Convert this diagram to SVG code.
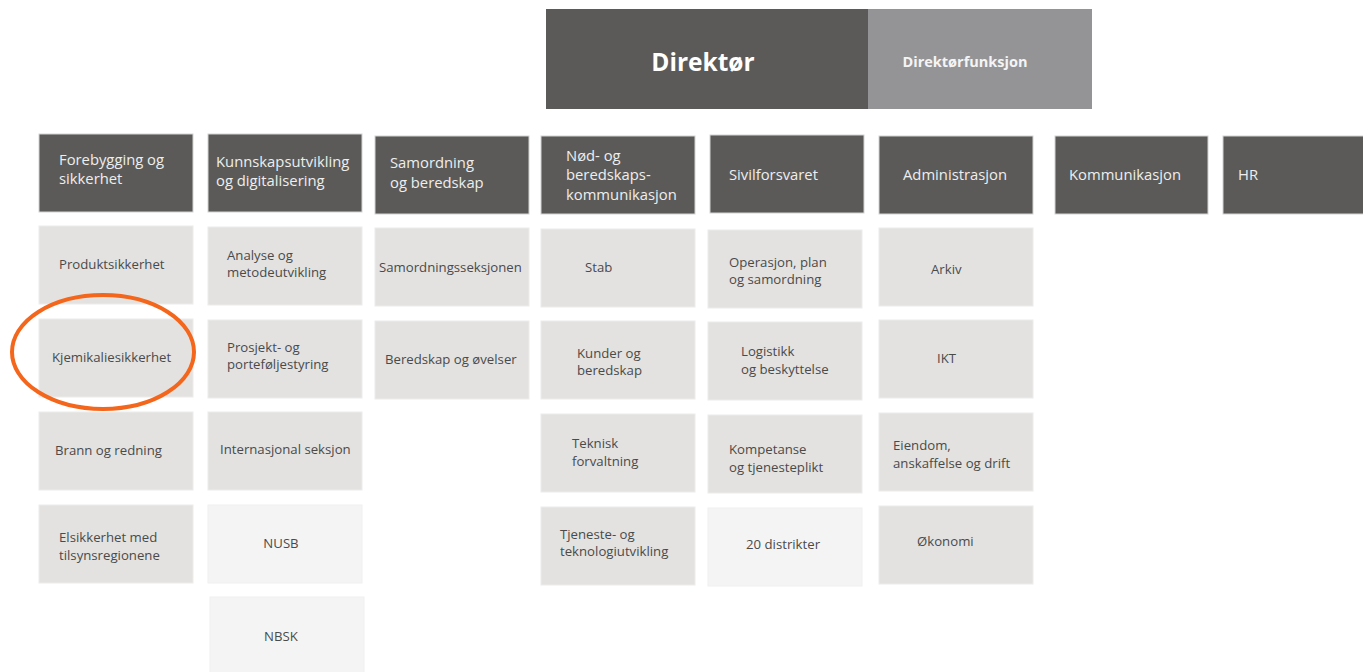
<svg xmlns="http://www.w3.org/2000/svg" width="1363" height="672" viewBox="0 0 1363 672">
<style>
.hd{fill:#5b5a58;stroke:#d4d4d4;stroke-width:1}
.sb{fill:#e3e2e0;stroke:#ececec;stroke-width:1}
.lt{fill:#f4f4f4;stroke:#f0f0f0;stroke-width:1}
.ht{font-family:"Open Sans","Liberation Sans",sans-serif;font-size:14.8px;fill:#eeeeee}
.st{font-family:"Open Sans","Liberation Sans",sans-serif;font-size:13.2px;fill:#4a4a4a}
.c{text-anchor:middle}
</style>
<rect width="1363" height="672" fill="#ffffff"/>
<g id="top">
<rect x="546" y="9" width="322" height="100" fill="#5b5a58"/>
<rect x="868" y="9" width="224" height="100" fill="#949497"/>
<text x="703" y="71" class="c" font-family="Open Sans, Liberation Sans, sans-serif" font-weight="bold" font-size="24.5" fill="#ffffff">Direktør</text>
<text x="965" y="67" class="c" font-family="Open Sans, Liberation Sans, sans-serif" font-weight="bold" font-size="14.5" fill="#f4f4f4">Direktørfunksjon</text>
</g>
<g id="headers">
<g id="h1"><rect class="hd" x="39" y="134" width="154" height="78"/><text class="ht" x="59" y="165">Forebygging og</text><text class="ht" x="59" y="184">sikkerhet</text></g>
<g id="h2"><rect class="hd" x="208" y="134" width="154" height="78"/><text class="ht" x="216" y="167">Kunnskapsutvikling</text><text class="ht" x="216" y="186">og digitalisering</text></g>
<g id="h3"><rect class="hd" x="375" y="136" width="154" height="78"/><text class="ht" x="390" y="168">Samordning</text><text class="ht" x="390" y="188">og beredskap</text></g>
<g id="h4"><rect class="hd" x="541" y="136" width="154" height="78"/><text class="ht" x="566" y="161">Nød- og</text><text class="ht" x="566" y="180">beredskaps-</text><text class="ht" x="566" y="200">kommunikasjon</text></g>
<g id="h5"><rect class="hd" x="710" y="135" width="154" height="78"/><text class="ht" x="729" y="180">Sivilforsvaret</text></g>
<g id="h6"><rect class="hd" x="879" y="136" width="154" height="78"/><text class="ht" x="903" y="180">Administrasjon</text></g>
<g id="h7"><rect class="hd" x="1055" y="136" width="153" height="78"/><text class="ht" x="1069" y="180">Kommunikasjon</text></g>
<g id="h8"><rect class="hd" x="1223" y="136" width="141" height="78"/><text class="ht" x="1238" y="180">HR</text></g>
</g>
<g id="col1">
<g id="n-produkt"><rect class="sb" x="39" y="226" width="154" height="78"/><text class="st" x="59" y="269">Produktsikkerhet</text></g>
<g id="n-kjemi"><rect class="sb" x="39" y="319" width="154" height="78"/><text class="st" x="52" y="362">Kjemikaliesikkerhet</text></g>
<g id="n-brann"><rect class="sb" x="39" y="412" width="154" height="78"/><text class="st" x="55" y="455">Brann og redning</text></g>
<g id="n-el"><rect class="sb" x="39" y="505" width="154" height="78"/><text class="st" x="59" y="542">Elsikkerhet med</text><text class="st" x="59" y="560">tilsynsregionene</text></g>
</g>
<g id="col2">
<g id="n-analyse"><rect class="sb" x="208" y="227" width="154" height="78"/><text class="st" x="227" y="260">Analyse og</text><text class="st" x="227" y="277">metodeutvikling</text></g>
<g id="n-prosjekt"><rect class="sb" x="208" y="320" width="154" height="78"/><text class="st" x="227" y="352">Prosjekt- og</text><text class="st" x="227" y="369">porteføljestyring</text></g>
<g id="n-intl"><rect class="sb" x="208" y="412" width="154" height="78"/><text class="st" x="220" y="454">Internasjonal seksjon</text></g>
<g id="n-nusb"><rect class="lt" x="208" y="505" width="154" height="78"/><text class="st c" x="281" y="548">NUSB</text></g>
<g id="n-nbsk"><rect class="lt" x="210" y="597" width="154" height="78"/><text class="st c" x="281" y="641">NBSK</text></g>
</g>
<g id="col3">
<g id="n-samseks"><rect class="sb" x="375" y="228" width="154" height="78"/><text class="st" x="379" y="272">Samordningsseksjonen</text></g>
<g id="n-bered"><rect class="sb" x="375" y="321" width="154" height="78"/><text class="st" x="385" y="364">Beredskap og øvelser</text></g>
</g>
<g id="col4">
<g id="n-stab"><rect class="sb" x="541" y="229" width="154" height="78"/><text class="st" x="585" y="272">Stab</text></g>
<g id="n-kunder"><rect class="sb" x="541" y="321" width="154" height="78"/><text class="st" x="577" y="358">Kunder og</text><text class="st" x="577" y="375">beredskap</text></g>
<g id="n-teknisk"><rect class="sb" x="541" y="414" width="154" height="78"/><text class="st" x="572" y="448">Teknisk</text><text class="st" x="572" y="466">forvaltning</text></g>
<g id="n-tjeneste"><rect class="sb" x="541" y="507" width="154" height="78"/><text class="st" x="560" y="539">Tjeneste- og</text><text class="st" x="560" y="556">teknologiutvikling</text></g>
</g>
<g id="col5">
<g id="n-operasjon"><rect class="sb" x="708" y="230" width="154" height="78"/><text class="st" x="729" y="267">Operasjon, plan</text><text class="st" x="729" y="284">og samordning</text></g>
<g id="n-logistikk"><rect class="sb" x="708" y="322" width="154" height="78"/><text class="st" x="741" y="356">Logistikk</text><text class="st" x="741" y="374">og beskyttelse</text></g>
<g id="n-kompetanse"><rect class="sb" x="708" y="415" width="154" height="78"/><text class="st" x="729" y="454">Kompetanse</text><text class="st" x="729" y="472">og tjenesteplikt</text></g>
<g id="n-distrikter"><rect class="lt" x="708" y="508" width="154" height="78"/><text class="st" x="746" y="549">20 distrikter</text></g>
</g>
<g id="col6">
<g id="n-arkiv"><rect class="sb" x="879" y="228" width="154" height="78"/><text class="st" x="931" y="274">Arkiv</text></g>
<g id="n-ikt"><rect class="sb" x="879" y="320" width="154" height="78"/><text class="st" x="937" y="363">IKT</text></g>
<g id="n-eiendom"><rect class="sb" x="879" y="413" width="154" height="78"/><text class="st" x="893" y="450">Eiendom,</text><text class="st" x="893" y="468">anskaffelse og drift</text></g>
<g id="n-okonomi"><rect class="sb" x="879" y="506" width="154" height="78"/><text class="st" x="917" y="546">Økonomi</text></g>
</g>
<g id="connectors"></g>
<g id="highlight">
<ellipse cx="103" cy="352" rx="91" ry="57" fill="none" stroke="#f4661b" stroke-width="4"/>
</g>
</svg>
